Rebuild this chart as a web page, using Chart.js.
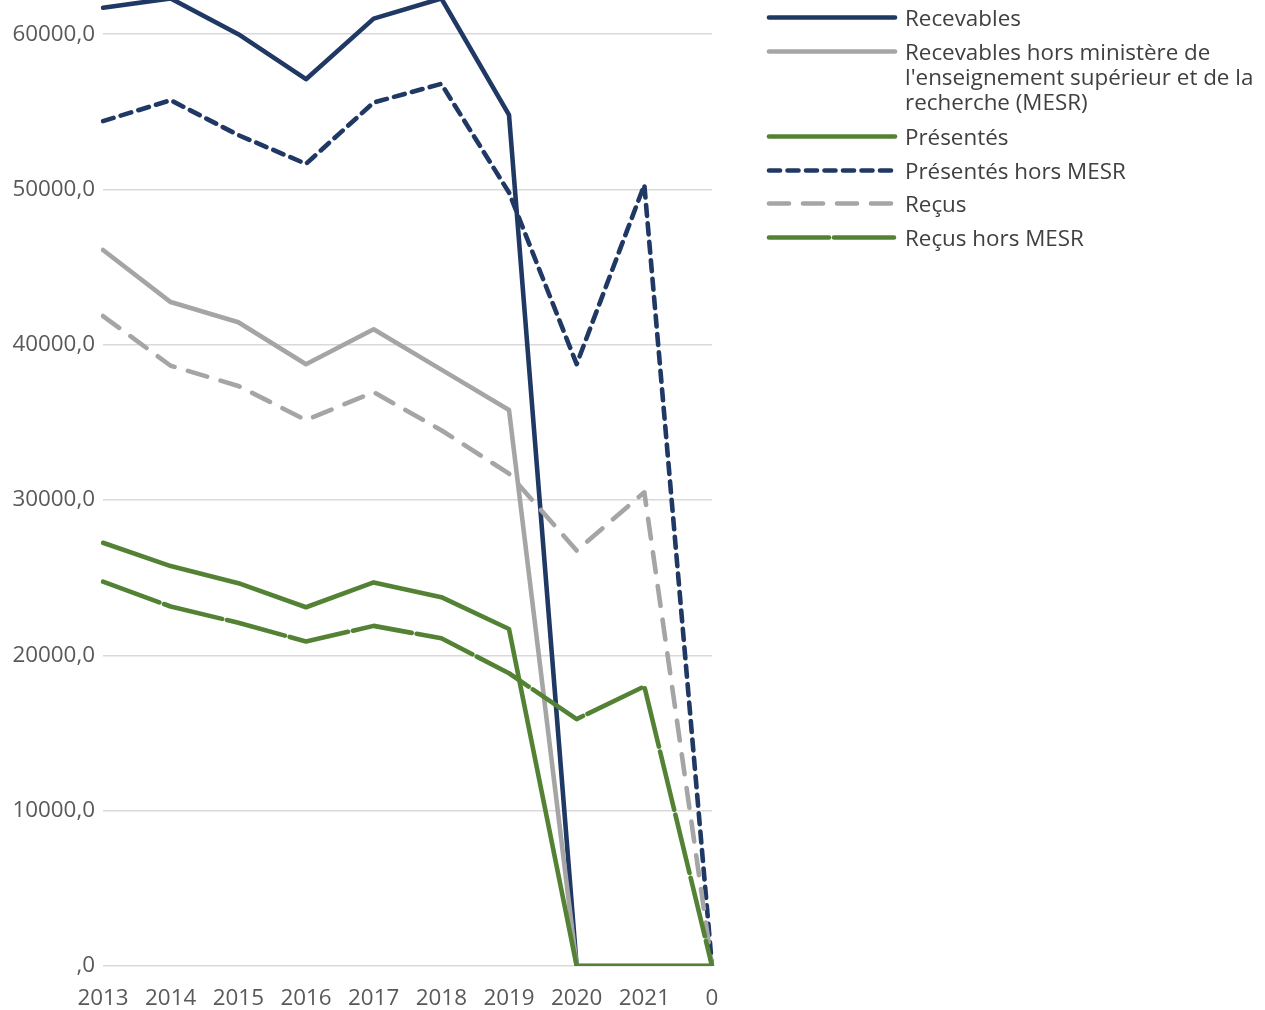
<!DOCTYPE html>
<html>
<head>
<meta charset="utf-8">
<script src="https://cdn.jsdelivr.net/npm/chart.js@4/dist/chart.umd.min.js"></script>
<style>
  html, body { margin: 0; padding: 0; background: #fff; }
  #wrap { position: relative; width: 1265px; height: 1010px; overflow: hidden; }
  #chart { position: absolute; left: 0; top: 0; }
  .leg { position: absolute; left: 765px; font-family: "Open Sans", sans-serif; font-size: 22.4px; line-height: 25px; color: #404040; white-space: nowrap; }
  .leg svg { position: absolute; left: 0; top: 0; }
  .leg span { position: absolute; left: 140px; top: 0; }
</style>
</head>
<body>
<div id="wrap">
  <canvas id="chart" width="1265" height="1010"></canvas>
  <div id="legend"></div>
</div>
<script>
// Categories (x axis)
const years = ["2013", "2014", "2015", "2016", "2017", "2018", "2019", "2020", "2021", "0"];

// Series values
const recevables        = [61700, 62300, 60000, 57100, 61000, 62300, 54800, 0, 0, 0];
const recevablesHorsMesr = [46100, 42750, 41450, 38750, 41000, 38400, 35800, 0, 0, 0];
const presentes         = [27250, 25750, 24650, 23100, 24700, 23750, 21700, 0, 0, 0];
const presentesHorsMesr = [54400, 55750, 53500, 51650, 55600, 56800, 49800, 38750, 50300, 0];
const recus             = [41850, 38650, 37350, 35150, 36950, 34500, 31700, 26750, 30500, 0];
const recusHorsMesr     = [24750, 23150, 22100, 20900, 21900, 21100, 18850, 15900, 18000, 0];

// Y tick values shown
const yTicks = [0, 10000, 20000, 30000, 40000, 50000, 60000];

const NAVY = "#203864";
const GRAY = "#a5a5a5";
const GREEN = "#548235";
const FONT = { family: "Open Sans", size: 22.4 };
const LINE_W = 4.6;

const seriesDefs = [
  { label: "Recevables", data: recevables, color: NAVY, dash: [], legendText: "Recevables" },
  { label: "Recevables hors ministère de l'enseignement supérieur et de la recherche (MESR)", data: recevablesHorsMesr, color: GRAY, dash: [],
    legendText: "Recevables hors ministère de<br>l'enseignement supérieur et de la<br>recherche (MESR)" },
  { label: "Présentés", data: presentes, color: GREEN, dash: [], legendText: "Présentés" },
  { label: "Présentés hors MESR", data: presentesHorsMesr, color: NAVY, dash: [11, 7.5], legendText: "Présentés hors MESR" },
  { label: "Reçus", data: recus, color: GRAY, dash: [20, 14], legendText: "Reçus" },
  { label: "Reçus hors MESR", data: recusHorsMesr, color: GREEN, dash: [60, 5], legendText: "Reçus hors MESR" }
];

// legend row centres (px from top)
const legendTops = [17, 51, 136, 170, 203, 237];

const datasets = seriesDefs.map((s, i) => ({
  label: s.label,
  data: s.data,
  borderColor: s.color,
  backgroundColor: s.color,
  borderWidth: LINE_W,
  borderDash: s.dash,
  borderCapStyle: "round",
  borderJoinStyle: "round",
  pointRadius: 0,
  tension: 0,
  order: seriesDefs.length - i // later series drawn on top, like Excel
}));

new Chart(document.getElementById("chart"), {
  type: "line",
  data: { labels: years, datasets },
  options: {
    responsive: false,
    animation: false,
    layout: { padding: { left: 0, top: 0, right: 553, bottom: 0 } },
    plugins: { legend: { display: false }, tooltip: { enabled: false } },
    scales: {
      x: {
        offset: false,
        grid: { display: false, drawTicks: false },
        border: { display: false },
        ticks: { color: "#595959", font: FONT, padding: 19, maxRotation: 0, autoSkip: false },
        afterFit: (scale) => { scale.height = 44; }
      },
      y: {
        min: 0,
        max: 62200,
        grid: { color: "#d9d9d9", lineWidth: 1.5, drawTicks: false },
        border: { display: false },
        afterBuildTicks: (scale) => { scale.ticks = yTicks.map(v => ({ value: v })); },
        afterFit: (scale) => {
          scale.width = 103;
          scale.paddingTop = 0;
          scale.paddingBottom = 0;
        },
        ticks: {
          color: "#595959",
          font: FONT,
          padding: 8,
          callback: (v) => (v === 0 ? ",0" : v + ",0")
        }
      }
    }
  }
});

// HTML legend
const legendEl = document.getElementById("legend");
seriesDefs.forEach((s, i) => {
  const row = document.createElement("div");
  row.className = "leg";
  row.style.top = (legendTops[i] - 12.5) + "px";
  const dashAttr = s.dash.length ? `stroke-dasharray="${s.dash.join(" ")}"` : "";
  row.innerHTML =
    `<svg width="136" height="25"><line x1="4" y1="12.5" x2="130" y2="12.5" stroke="${s.color}" stroke-width="${LINE_W}" stroke-linecap="round" ${dashAttr}/></svg>` +
    `<span>${s.legendText}</span>`;
  legendEl.appendChild(row);
});
</script>
</body>
</html>
